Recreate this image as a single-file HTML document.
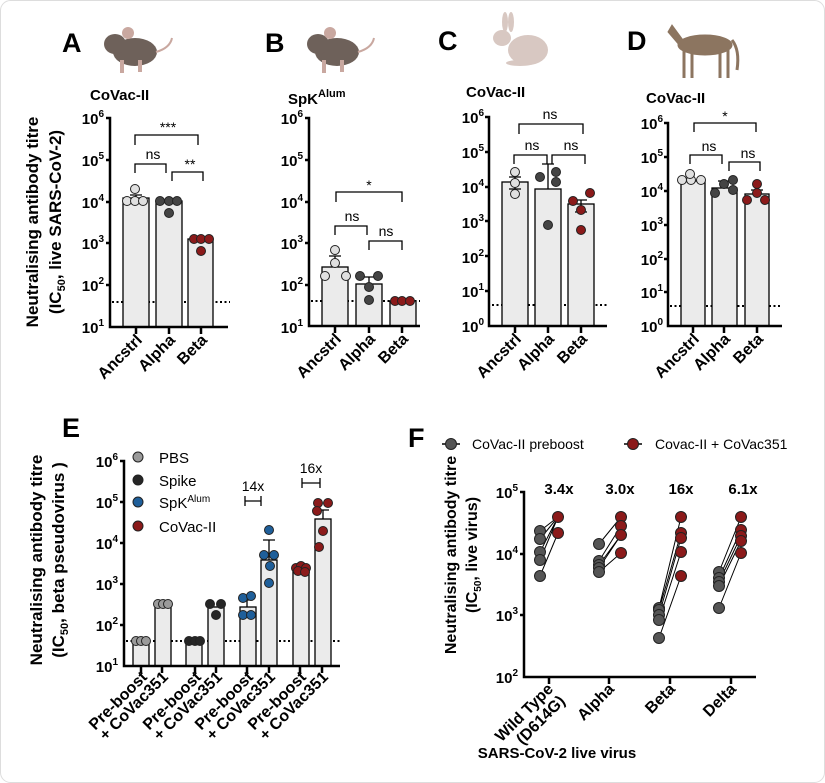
<!DOCTYPE html>
<html><head><meta charset="utf-8"><style>
body{margin:0;background:#fff}
svg{display:block;font-family:"Liberation Sans",Arial,sans-serif}
.b{font-weight:bold}
.tk{font-weight:bold;font-size:15px;text-anchor:end}
.xl{font-weight:bold;font-size:16px;text-anchor:end}
.sg{font-size:14px;text-anchor:middle}
.L{font-weight:bold;font-size:27px}
.T{font-weight:bold;font-size:15px}
.ax{stroke:#000;stroke-width:2.5;fill:none}
.br{fill:#ebebeb;stroke:#000;stroke-width:1.3}
.dl{stroke:#000;stroke-width:2;stroke-dasharray:2 2.5}
.bk{stroke:#000;stroke-width:1.3;fill:none}
.c{stroke:#222;stroke-width:1}
</style></head><body>
<svg width="825" height="783" viewBox="0 0 825 783">
<rect x="0.5" y="0.5" width="824" height="782" rx="10" fill="#fff" stroke="#ddd"/>

<!-- ============ PANEL A ============ -->
<text class="L" x="62" y="52">A</text>
<g fill="#6e615a"><ellipse cx="135" cy="52" rx="22" ry="14"/><ellipse cx="115" cy="44" rx="11" ry="10"/><circle cx="128" cy="33" r="6" fill="#c9a8a0"/><path d="M156 52 q14 -4 16 -14" stroke="#c9a8a0" stroke-width="2" fill="none"/><rect x="120" y="60" width="4" height="13" fill="#c9a8a0"/><rect x="138" y="60" width="4" height="12" fill="#c9a8a0"/></g>
<text class="T" x="90" y="100">CoVac-II</text>
<g transform="translate(38,222) rotate(-90)"><text class="b" font-size="17" text-anchor="middle">Neutralising antibody titre</text></g>
<g transform="translate(61,222) rotate(-90)"><text class="b" font-size="17" text-anchor="middle">(IC<tspan font-size="11" dy="4">50</tspan><tspan dy="-4">, live SARS-CoV-2)</tspan></text></g>
<g class="tk">
<text x="104" y="124">10<tspan font-size="10" dy="-7">6</tspan></text>
<text x="104" y="166">10<tspan font-size="10" dy="-7">5</tspan></text>
<text x="104" y="208">10<tspan font-size="10" dy="-7">4</tspan></text>
<text x="104" y="249">10<tspan font-size="10" dy="-7">3</tspan></text>
<text x="104" y="291">10<tspan font-size="10" dy="-7">2</tspan></text>
<text x="104" y="333">10<tspan font-size="10" dy="-7">1</tspan></text>
</g>
<line class="dl" x1="112" y1="302" x2="230" y2="302"/>
<rect class="br" x="123" y="198" width="26" height="129"/>
<rect class="br" x="156" y="201" width="26" height="126"/>
<rect class="br" x="188" y="239" width="25" height="88"/>
<path class="ax" d="M106 118 H110 V327 H228 M106 160 H110 M106 202 H110 M106 243 H110 M106 285 H110 M136 327 v7 M169 327 v7 M201 327 v7"/>
<path class="bk" d="M136 195 V201 M130 195 H142"/>
<g fill="#e0e0e0" class="c"><circle cx="127" cy="201" r="4.5"/><circle cx="135" cy="201" r="4.5"/><circle cx="143" cy="201" r="4.5"/><circle cx="135" cy="189" r="4.5"/></g>
<g fill="#444" class="c"><circle cx="160" cy="201" r="4.5"/><circle cx="169" cy="201" r="4.5"/><circle cx="177" cy="201" r="4.5"/><circle cx="169" cy="213" r="4.5"/></g>
<g fill="#8b1a1a" class="c"><circle cx="194" cy="239" r="4.5"/><circle cx="201" cy="239" r="4.5"/><circle cx="209" cy="239" r="4.5"/><circle cx="201" cy="251" r="4.5"/></g>
<path class="bk" d="M135 145 V135 H198 V145 M135 173 V164 H166 V173 M172 181 V172 H203 V181"/>
<text class="sg" x="168" y="132">***</text><text class="sg" x="153" y="159">ns</text><text class="sg" x="190" y="169">**</text>
<g class="xl"><text transform="translate(143,341) rotate(-45)">Ancstrl</text><text transform="translate(176,341) rotate(-45)">Alpha</text><text transform="translate(208,341) rotate(-45)">Beta</text></g>

<!-- ============ PANEL B ============ -->
<text class="L" x="265" y="52">B</text>
<g fill="#6e615a"><ellipse cx="337" cy="52" rx="22" ry="14"/><ellipse cx="318" cy="44" rx="11" ry="10"/><circle cx="330" cy="33" r="6" fill="#c9a8a0"/><path d="M358 52 q14 -4 16 -14" stroke="#c9a8a0" stroke-width="2" fill="none"/><rect x="322" y="60" width="4" height="13" fill="#c9a8a0"/><rect x="340" y="60" width="4" height="12" fill="#c9a8a0"/></g>
<text class="T" x="288" y="104">SpK<tspan font-size="11" dy="-7">Alum</tspan></text>
<g class="tk">
<text x="303" y="124">10<tspan font-size="10" dy="-7">6</tspan></text>
<text x="303" y="166">10<tspan font-size="10" dy="-7">5</tspan></text>
<text x="303" y="208">10<tspan font-size="10" dy="-7">4</tspan></text>
<text x="303" y="249">10<tspan font-size="10" dy="-7">3</tspan></text>
<text x="303" y="291">10<tspan font-size="10" dy="-7">2</tspan></text>
<text x="303" y="333">10<tspan font-size="10" dy="-7">1</tspan></text>
</g>
<line class="dl" x1="311" y1="301" x2="420" y2="301"/>
<rect class="br" x="322" y="267" width="26" height="59"/>
<rect class="br" x="356" y="284" width="26" height="42"/>
<rect class="br" x="390" y="301" width="26" height="25"/>
<path class="ax" d="M305 118 H309 V326 H420 M305 160 H309 M305 202 H309 M305 243 H309 M305 285 H309 M335 326 v7 M369 326 v7 M402 326 v7"/>
<path class="bk" d="M335 256 V267 M329 256 H341 M369 277 V284 M363 277 H375"/>
<g fill="#e0e0e0" class="c"><circle cx="335" cy="250" r="4.5"/><circle cx="335" cy="263" r="4.5"/><circle cx="325" cy="276" r="4.5"/><circle cx="346" cy="276" r="4.5"/></g>
<g fill="#444" class="c"><circle cx="360" cy="276" r="4.5"/><circle cx="378" cy="276" r="4.5"/><circle cx="369" cy="287" r="4.5"/><circle cx="369" cy="300" r="4.5"/></g>
<g fill="#8b1a1a" class="c"><circle cx="395" cy="301" r="4.5"/><circle cx="402" cy="301" r="4.5"/><circle cx="410" cy="301" r="4.5"/></g>
<path class="bk" d="M336 202 V192 H402 V202 M335 235 V226 H367 V235 M369 250 V241 H402 V250"/>
<text class="sg" x="369" y="190">*</text><text class="sg" x="352" y="221">ns</text><text class="sg" x="386" y="236">ns</text>
<g class="xl"><text transform="translate(342,340) rotate(-45)">Ancstrl</text><text transform="translate(376,340) rotate(-45)">Alpha</text><text transform="translate(409,340) rotate(-45)">Beta</text></g>

<!-- ============ PANEL C ============ -->
<text class="L" x="438" y="50">C</text>
<g fill="#d8c8c2"><ellipse cx="528" cy="50" rx="20" ry="15"/><ellipse cx="502" cy="38" rx="9" ry="8"/><ellipse cx="505" cy="22" rx="3" ry="10"/><ellipse cx="511" cy="22" rx="3" ry="10"/><ellipse cx="520" cy="63" rx="14" ry="3"/></g>
<text class="T" x="466" y="97">CoVac-II</text>
<g class="tk">
<text x="484" y="123">10<tspan font-size="10" dy="-7">6</tspan></text>
<text x="484" y="158">10<tspan font-size="10" dy="-7">5</tspan></text>
<text x="484" y="193">10<tspan font-size="10" dy="-7">4</tspan></text>
<text x="484" y="228">10<tspan font-size="10" dy="-7">3</tspan></text>
<text x="484" y="263">10<tspan font-size="10" dy="-7">2</tspan></text>
<text x="484" y="297">10<tspan font-size="10" dy="-7">1</tspan></text>
<text x="484" y="332">10<tspan font-size="10" dy="-7">0</tspan></text>
</g>
<line class="dl" x1="492" y1="305" x2="607" y2="305"/>
<rect class="br" x="502" y="182" width="26" height="144"/>
<rect class="br" x="535" y="189" width="26" height="137"/>
<rect class="br" x="568" y="204" width="26" height="122"/>
<path class="ax" d="M485 117 H489 V326 H607 M485 152 H489 M485 187 H489 M485 221 H489 M485 256 H489 M485 291 H489 M515 326 v7 M548 326 v7 M581 326 v7"/>
<path class="bk" d="M515 177 V189 M509 177 H521 M509 189 H521 M548 164 V189 M542 164 H554 M581 200 V212 M575 200 H587 M575 212 H587"/>
<g fill="#e0e0e0" class="c"><circle cx="515" cy="172" r="4.5"/><circle cx="515" cy="183" r="4.5"/><circle cx="515" cy="194" r="4.5"/></g>
<g fill="#444" class="c"><circle cx="540" cy="177" r="4.5"/><circle cx="556" cy="172" r="4.5"/><circle cx="556" cy="182" r="4.5"/><circle cx="548" cy="225" r="4.5"/></g>
<g fill="#8b1a1a" class="c"><circle cx="573" cy="201" r="4.5"/><circle cx="590" cy="193" r="4.5"/><circle cx="581" cy="210" r="4.5"/><circle cx="581" cy="230" r="4.5"/></g>
<path class="bk" d="M519 134 V124 H583 V134 M514 164 V155 H547 V164 M552 164 V155 H585 V164"/>
<text class="sg" x="550" y="119">ns</text><text class="sg" x="532" y="150">ns</text><text class="sg" x="571" y="150">ns</text>
<g class="xl"><text transform="translate(522,340) rotate(-45)">Ancstrl</text><text transform="translate(555,340) rotate(-45)">Alpha</text><text transform="translate(588,340) rotate(-45)">Beta</text></g>

<!-- ============ PANEL D ============ -->
<text class="L" x="627" y="50">D</text>
<g fill="#8c7560" stroke="#8c7560"><ellipse cx="705" cy="45" rx="27" ry="10"/><path d="M683 40 L672 25 L668 32 L680 46 Z"/><path d="M684 50 v28 M692 50 v28 M720 50 v28 M728 50 v28" stroke-width="3"/><path d="M732 40 q8 10 5 30" stroke-width="3" fill="none"/></g>
<text class="T" x="646" y="103">CoVac-II</text>
<g class="tk">
<text x="663" y="129">10<tspan font-size="10" dy="-7">6</tspan></text>
<text x="663" y="163">10<tspan font-size="10" dy="-7">5</tspan></text>
<text x="663" y="197">10<tspan font-size="10" dy="-7">4</tspan></text>
<text x="663" y="231">10<tspan font-size="10" dy="-7">3</tspan></text>
<text x="663" y="265">10<tspan font-size="10" dy="-7">2</tspan></text>
<text x="663" y="298">10<tspan font-size="10" dy="-7">1</tspan></text>
<text x="663" y="332">10<tspan font-size="10" dy="-7">0</tspan></text>
</g>
<line class="dl" x1="670" y1="306" x2="782" y2="306"/>
<rect class="br" x="681" y="181" width="24" height="145"/>
<rect class="br" x="712" y="188" width="25" height="138"/>
<rect class="br" x="745" y="194" width="24" height="132"/>
<path class="ax" d="M664 123 H668 V326 H782 M664 157 H668 M664 191 H668 M664 225 H668 M664 259 H668 M664 292 H668 M693 326 v7 M724 326 v7 M757 326 v7"/>
<path class="bk" d="M724 181 V188 M718 181 H730 M757 190 V194 M751 190 H763"/>
<g fill="#e0e0e0" class="c"><circle cx="682" cy="180" r="4.5"/><circle cx="691" cy="180" r="4.5"/><circle cx="701" cy="180" r="4.5"/><circle cx="690" cy="174" r="4.5"/></g>
<g fill="#444" class="c"><circle cx="715" cy="193" r="4.5"/><circle cx="724" cy="184" r="4.5"/><circle cx="733" cy="180" r="4.5"/><circle cx="733" cy="190" r="4.5"/></g>
<g fill="#8b1a1a" class="c"><circle cx="747" cy="200" r="4.5"/><circle cx="757" cy="184" r="4.5"/><circle cx="757" cy="193" r="4.5"/><circle cx="765" cy="200" r="4.5"/></g>
<path class="bk" d="M694 132 V123 H756 V132 M690 164 V155 H722 V164 M729 171 V162 H760 V171"/>
<text class="sg" x="725" y="121">*</text><text class="sg" x="709" y="151">ns</text><text class="sg" x="748" y="158">ns</text>
<g class="xl"><text transform="translate(700,340) rotate(-45)">Ancstrl</text><text transform="translate(731,340) rotate(-45)">Alpha</text><text transform="translate(764,340) rotate(-45)">Beta</text></g>

<!-- ============ PANEL E ============ -->
<text class="L" x="62" y="437">E</text>
<g transform="translate(42,560) rotate(-90)"><text class="b" font-size="17" text-anchor="middle">Neutralising antibody titre</text></g>
<g transform="translate(64,560) rotate(-90)"><text class="b" font-size="17" text-anchor="middle">(IC<tspan font-size="11" dy="4">50</tspan><tspan dy="-4">, beta pseudovirus )</tspan></text></g>
<g class="tk">
<text x="118" y="467">10<tspan font-size="10" dy="-7">6</tspan></text>
<text x="118" y="508">10<tspan font-size="10" dy="-7">5</tspan></text>
<text x="118" y="549">10<tspan font-size="10" dy="-7">4</tspan></text>
<text x="118" y="590">10<tspan font-size="10" dy="-7">3</tspan></text>
<text x="118" y="631">10<tspan font-size="10" dy="-7">2</tspan></text>
<text x="118" y="672">10<tspan font-size="10" dy="-7">1</tspan></text>
</g>
<line class="dl" x1="126" y1="641" x2="340" y2="641"/>
<g class="br"><rect x="133" y="641" width="16" height="25"/><rect x="155" y="604" width="16" height="62"/><rect x="186" y="641" width="16" height="25"/><rect x="208" y="607" width="16" height="59"/><rect x="240" y="607" width="16" height="59"/><rect x="261" y="560" width="16" height="106"/><rect x="293" y="569" width="16" height="97"/><rect x="315" y="519" width="16" height="147"/></g>
<path class="ax" d="M120 461 H124 V666 H340 M120 502 H124 M120 543 H124 M120 584 H124 M120 625 H124 M141 666 v7 M162 666 v7 M195 666 v7 M216 666 v7 M247 666 v7 M269 666 v7 M300 666 v7 M322 666 v7"/>
<path class="bk" d="M269 540 V560 M263 540 H275 M323 510 V519 M317 510 H329 M247 600 V607 M241 600 H253"/>
<g fill="#9a9a9a" class="c"><circle cx="136" cy="641" r="4.5"/><circle cx="141" cy="641" r="4.5"/><circle cx="146" cy="641" r="4.5"/><circle cx="158" cy="604" r="4.5"/><circle cx="163" cy="604" r="4.5"/><circle cx="168" cy="604" r="4.5"/></g>
<g fill="#262626" class="c"><circle cx="189" cy="641" r="4.5"/><circle cx="195" cy="641" r="4.5"/><circle cx="200" cy="641" r="4.5"/><circle cx="210" cy="604" r="4.5"/><circle cx="221" cy="604" r="4.5"/><circle cx="216" cy="615" r="4.5"/></g>
<g fill="#1f5f9a" class="c"><circle cx="243" cy="598" r="4.5"/><circle cx="251" cy="596" r="4.5"/><circle cx="243" cy="615" r="4.5"/><circle cx="251" cy="615" r="4.5"/><circle cx="269" cy="530" r="4.5"/><circle cx="264" cy="555" r="4.5"/><circle cx="274" cy="555" r="4.5"/><circle cx="270" cy="566" r="4.5"/><circle cx="269" cy="583" r="4.5"/></g>
<g fill="#8b1a1a" class="c"><circle cx="296" cy="568" r="4.5"/><circle cx="301" cy="566" r="4.5"/><circle cx="306" cy="568" r="4.5"/><circle cx="298" cy="571" r="4.5"/><circle cx="305" cy="572" r="4.5"/><circle cx="318" cy="503" r="4.5"/><circle cx="328" cy="503" r="4.5"/><circle cx="317" cy="511" r="4.5"/><circle cx="323" cy="531" r="4.5"/><circle cx="319" cy="547" r="4.5"/></g>
<g font-size="15">
<circle cx="138" cy="457" r="5" fill="#9a9a9a" class="c"/><text x="159" y="463">PBS</text>
<circle cx="138" cy="480" r="5" fill="#262626" class="c"/><text x="159" y="486">Spike</text>
<circle cx="138" cy="502" r="5" fill="#1f5f9a" class="c"/><text x="159" y="508">SpK<tspan font-size="10" dy="-6">Alum</tspan></text>
<circle cx="138" cy="526" r="5" fill="#8b1a1a" class="c"/><text x="159" y="532">CoVac-II</text>
</g>
<path class="bk" stroke-width="2" d="M245 501 H261 M245 496 V506 M261 496 V506 M302 483 H320 M302 478 V488 M320 478 V488"/>
<text class="sg" font-size="15" x="253" y="491">14x</text><text class="sg" font-size="15" x="311" y="473">16x</text>
<g class="xl" font-size="14">
<text transform="translate(148,678) rotate(-45)">Pre-boost</text><text transform="translate(169,678) rotate(-45)">+ CoVac351</text>
<text transform="translate(202,678) rotate(-45)">Pre-boost</text><text transform="translate(223,678) rotate(-45)">+ CoVac351</text>
<text transform="translate(254,678) rotate(-45)">Pre-boost</text><text transform="translate(276,678) rotate(-45)">+ CoVac351</text>
<text transform="translate(307,678) rotate(-45)">Pre-boost</text><text transform="translate(329,678) rotate(-45)">+ CoVac351</text>
</g>

<!-- ============ PANEL F ============ -->
<text class="L" x="408" y="447">F</text>
<g font-size="14">
<line x1="442" y1="444" x2="460" y2="444" stroke="#000" stroke-width="1.5"/><circle cx="451" cy="444" r="5.5" fill="#555" class="c"/><text x="472" y="449">CoVac-II preboost</text>
<line x1="624" y1="444" x2="642" y2="444" stroke="#000" stroke-width="1.5"/><circle cx="633" cy="444" r="5.5" fill="#8b1a1a" class="c"/><text x="655" y="449">Covac-II + CoVac351</text>
</g>
<g transform="translate(456,555) rotate(-90)"><text class="b" font-size="16" text-anchor="middle">Neutralising antibody titre</text></g>
<g transform="translate(477,555) rotate(-90)"><text class="b" font-size="16" text-anchor="middle">(IC<tspan font-size="10" dy="4">50</tspan><tspan dy="-4">, live virus)</tspan></text></g>
<g class="tk">
<text x="518" y="498">10<tspan font-size="10" dy="-7">5</tspan></text>
<text x="518" y="560">10<tspan font-size="10" dy="-7">4</tspan></text>
<text x="518" y="621">10<tspan font-size="10" dy="-7">3</tspan></text>
<text x="518" y="683">10<tspan font-size="10" dy="-7">2</tspan></text>
</g>
<path class="ax" d="M520 492 H524 V677 H756 M520 554 H524 M520 615 H524 M549 677 v7 M609 677 v7 M670 677 v7 M731 677 v7"/>
<g stroke="#000" stroke-width="1">
<path d="M540 531 L558 517 M540 539 L558 517 M540 552 L558 517 M540 560 L558 517 M540 576 L558 533"/>
<path d="M599 544 L621 517 M599 561 L621 526 M599 565 L621 535 M599 568 L621 535 M599 572 L621 553"/>
<path d="M659 608 L681 517 M659 610 L681 533 M659 615 L681 538 M659 620 L681 552 M659 638 L681 576"/>
<path d="M719 572 L741 517 M719 578 L741 530 M719 582 L741 536 M719 586 L741 541 M719 608 L741 553"/>
</g>
<g fill="#555" class="c">
<circle cx="540" cy="531" r="5.5"/><circle cx="540" cy="539" r="5.5"/><circle cx="540" cy="552" r="5.5"/><circle cx="540" cy="560" r="5.5"/><circle cx="540" cy="576" r="5.5"/>
<circle cx="599" cy="544" r="5.5"/><circle cx="599" cy="561" r="5.5"/><circle cx="599" cy="565" r="5.5"/><circle cx="599" cy="568" r="5.5"/><circle cx="599" cy="572" r="5.5"/>
<circle cx="659" cy="608" r="5.5"/><circle cx="659" cy="610" r="5.5"/><circle cx="659" cy="615" r="5.5"/><circle cx="659" cy="620" r="5.5"/><circle cx="659" cy="638" r="5.5"/>
<circle cx="719" cy="572" r="5.5"/><circle cx="719" cy="578" r="5.5"/><circle cx="719" cy="582" r="5.5"/><circle cx="719" cy="586" r="5.5"/><circle cx="719" cy="608" r="5.5"/>
</g>
<g fill="#8b1a1a" class="c">
<circle cx="558" cy="517" r="5.5"/><circle cx="558" cy="533" r="5.5"/>
<circle cx="621" cy="517" r="5.5"/><circle cx="621" cy="526" r="5.5"/><circle cx="621" cy="535" r="5.5"/><circle cx="621" cy="553" r="5.5"/>
<circle cx="681" cy="517" r="5.5"/><circle cx="681" cy="533" r="5.5"/><circle cx="681" cy="538" r="5.5"/><circle cx="681" cy="552" r="5.5"/><circle cx="681" cy="576" r="5.5"/>
<circle cx="741" cy="517" r="5.5"/><circle cx="741" cy="530" r="5.5"/><circle cx="741" cy="536" r="5.5"/><circle cx="741" cy="541" r="5.5"/><circle cx="741" cy="553" r="5.5"/>
</g>
<g class="b" font-size="15" text-anchor="middle"><text x="559" y="494">3.4x</text><text x="620" y="494">3.0x</text><text x="681" y="494">16x</text><text x="743" y="494">6.1x</text></g>
<g class="xl" font-size="14">
<text transform="translate(554,690) rotate(-45)">Wild Type</text><text transform="translate(566,702) rotate(-45)">(D614G)</text>
<text transform="translate(615,690) rotate(-45)">Alpha</text><text transform="translate(676,690) rotate(-45)">Beta</text><text transform="translate(737,690) rotate(-45)">Delta</text>
</g>
<text class="b" font-size="15" text-anchor="middle" x="557" y="758">SARS-CoV-2 live virus</text>
</svg>
</body></html>
